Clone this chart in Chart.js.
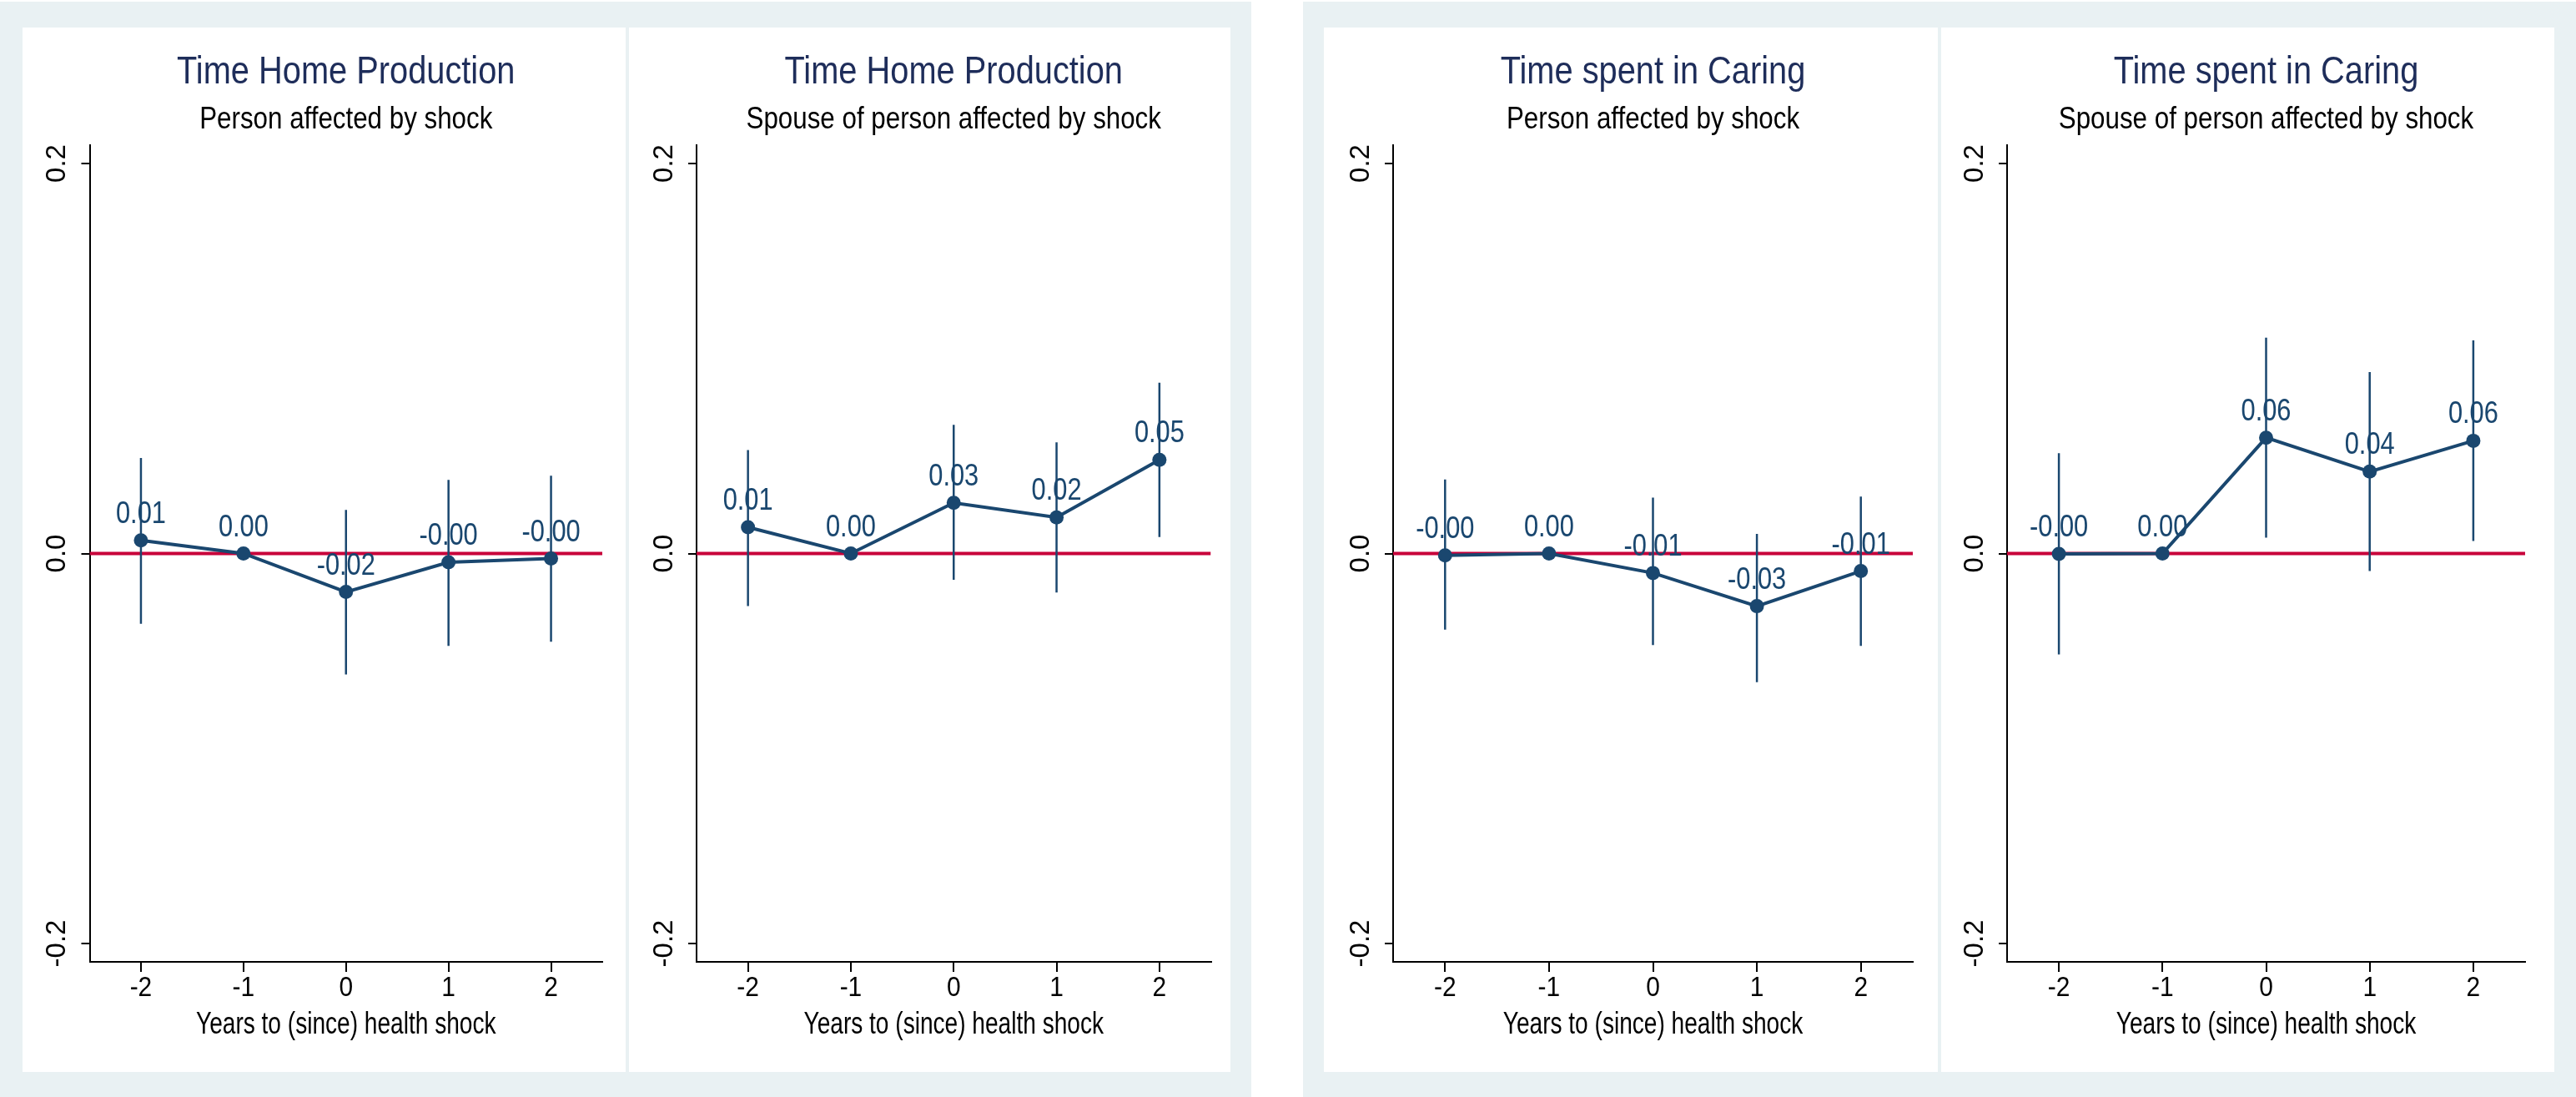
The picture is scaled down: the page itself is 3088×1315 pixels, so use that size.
<!DOCTYPE html>
<html>
<head>
<meta charset="utf-8">
<title>Event study: home production and caring time</title>
<script src="https://cdn.jsdelivr.net/npm/chart.js@4.4.1/dist/chart.umd.min.js"></script>
<style>
  html, body { margin: 0; padding: 0; background: #ffffff; }
  body { width: 3088px; height: 1315px; position: relative; overflow: hidden; }
  .outer { position: absolute; background: #e9f1f3; }
  canvas { position: absolute; background: #ffffff; }
</style>
</head>
<body>
<div class="outer" style="left:0px; top:2px; width:1500px; height:1313px;"></div>
<div class="outer" style="left:1562px; top:2px; width:1526px; height:1313px;"></div>

<script>
// Years relative to the health shock (-1 is the omitted base year)
const years = [-2, -1, 0, 1, 2];
const xTicks = [-2, -1, 0, 1, 2];
const yTicks = [-0.2, 0, 0.2];
const xRange = [-2.5, 2.5];
const yRange = [-0.2094, 0.2094];
const baseline = 0;

const panelTitles = ["Time Home Production", "Time Home Production", "Time spent in Caring", "Time spent in Caring"];
const panelSubtitles = ["Person affected by shock", "Spouse of person affected by shock", "Person affected by shock", "Spouse of person affected by shock"];
const xAxisTitle = "Years to (since) health shock";

// Point estimates and 95% confidence bounds
const homeSelfCoef   = [0.0067, 0, -0.0197, -0.0045, -0.0026];
const homeSelfLo     = [-0.0360, null, -0.0620, -0.0474, -0.0452];
const homeSelfHi     = [0.0490, null, 0.0224, 0.0378, 0.0399];

const homeSpouseCoef = [0.0135, 0, 0.0260, 0.0185, 0.0480];
const homeSpouseLo   = [-0.0270, null, -0.0135, -0.0200, 0.0084];
const homeSpouseHi   = [0.0530, null, 0.0660, 0.0570, 0.0876];

const careSelfCoef   = [-0.0010, 0, -0.0100, -0.0270, -0.0090];
const careSelfLo     = [-0.0390, null, -0.0470, -0.0660, -0.0474];
const careSelfHi     = [0.0380, null, 0.0287, 0.0100, 0.0292];

const careSpouseCoef = [-0.0002, 0, 0.0594, 0.0420, 0.0578];
const careSpouseLo   = [-0.0518, null, 0.0081, -0.0090, 0.0064];
const careSpouseHi   = [0.0514, null, 0.1107, 0.0930, 0.1093];

const series = [
    { coef: homeSelfCoef, lo: homeSelfLo, hi: homeSelfHi },
    { coef: homeSpouseCoef, lo: homeSpouseLo, hi: homeSpouseHi },
    { coef: careSelfCoef, lo: careSelfLo, hi: careSelfHi },
    { coef: careSpouseCoef, lo: careSpouseLo, hi: careSpouseHi }
];

// Placement of the four white plot boxes
const boxes = [
    { left: 27,   width: 723, axis: 80.5, right: 28 },
    { left: 754,  width: 721, axis: 81,   right: 23.5 },
    { left: 1587, width: 736, axis: 83,   right: 30 },
    { left: 2327, width: 735, axis: 79,   right: 35 }
];
const boxTop = 33;
const boxHeight = 1252;

const NAVY = "#1a476f";
const TITLE_NAVY = "#1e2d5a";
const RED = "#c8003a";
const FONT = "'Liberation Sans', Arial, sans-serif";

// the graph font is a narrow sans, so horizontal text gets squeezed
function narrowText(ctx, text, x, y, squeeze) {
    ctx.save();
    ctx.translate(x, y);
    ctx.scale(squeeze, 1);
    ctx.fillText(text, 0, 0);
    ctx.restore();
}

// Title, subtitle, x tick labels and x axis title
const textPlugin = {
    id: "panelText",
    afterDraw(chart, args, opts) {
        const { ctx, chartArea } = chart;
        const xScale = chart.scales.x;
        const cx = (chartArea.left + chartArea.right) / 2;
        ctx.save();
        ctx.textAlign = "center";
        ctx.textBaseline = "alphabetic";

        ctx.fillStyle = TITLE_NAVY;
        ctx.font = "46px " + FONT;
        narrowText(ctx, opts.title, cx, 67, 0.865);

        ctx.fillStyle = "#000000";
        ctx.font = "36px " + FONT;
        narrowText(ctx, opts.subtitle, cx, 121, 0.87);

        ctx.font = "34px " + FONT;
        xScale.ticks.forEach(t => {
            narrowText(ctx, String(t.value), xScale.getPixelForValue(t.value), chartArea.bottom + 41, 0.88);
        });

        ctx.font = "36px " + FONT;
        narrowText(ctx, opts.xTitle, cx, chartArea.bottom + 86, 0.78);
        ctx.restore();
    }
};

// Coefficient labels above each marker
const valueLabelPlugin = {
    id: "valueLabels",
    afterDatasetsDraw(chart) {
        const { ctx } = chart;
        const meta = chart.getDatasetMeta(0);
        const values = chart.data.datasets[0].data;
        ctx.save();
        ctx.textAlign = "center";
        ctx.textBaseline = "alphabetic";
        ctx.fillStyle = NAVY;
        ctx.font = "36px " + FONT;
        meta.data.forEach((pt, i) => {
            narrowText(ctx, values[i].y.toFixed(2), pt.x, pt.y - 21, 0.855);
        });
        ctx.restore();
    }
};

function ciPoints(lo, hi) {
    const pts = [];
    years.forEach((yr, i) => {
        if (lo[i] === null) return;
        pts.push({ x: yr, y: lo[i] }, { x: yr, y: hi[i] }, { x: yr, y: null });
    });
    return pts;
}

function buildChart(idx) {
    const box = boxes[idx];
    const s = series[idx];

    const canvas = document.createElement("canvas");
    canvas.width = box.width;
    canvas.height = boxHeight;
    canvas.style.left = box.left + "px";
    canvas.style.top = boxTop + "px";
    document.body.appendChild(canvas);

    new Chart(canvas.getContext("2d"), {
        type: "line",
        data: {
            datasets: [
                {
                    data: years.map((yr, i) => ({ x: yr, y: s.coef[i] })),
                    borderColor: NAVY,
                    borderWidth: 4,
                    pointRadius: 8.5,
                    pointBackgroundColor: NAVY,
                    pointBorderWidth: 0,
                    tension: 0
                },
                {
                    data: ciPoints(s.lo, s.hi),
                    borderColor: NAVY,
                    borderWidth: 2.5,
                    pointRadius: 0,
                    spanGaps: false
                },
                {
                    data: [{ x: xRange[0], y: baseline }, { x: xRange[1], y: baseline }],
                    borderColor: RED,
                    borderWidth: 4,
                    pointRadius: 0
                }
            ]
        },
        options: {
            responsive: false,
            animation: false,
            events: [],
            layout: { padding: { top: 141, right: box.right, bottom: 0, left: 0 } },
            plugins: {
                legend: { display: false },
                tooltip: { enabled: false },
                panelText: { title: panelTitles[idx], subtitle: panelSubtitles[idx], xTitle: xAxisTitle }
            },
            scales: {
                x: {
                    type: "linear",
                    min: xRange[0],
                    max: xRange[1],
                    afterBuildTicks: sc => { sc.ticks = xTicks.map(v => ({ value: v })); },
                    afterFit: sc => { sc.height = 132; },
                    grid: { drawOnChartArea: false, tickLength: 12, color: "#000000", lineWidth: 2 },
                    border: { color: "#000000", width: 2 },
                    ticks: { display: false }
                },
                y: {
                    min: yRange[0],
                    max: yRange[1],
                    afterBuildTicks: sc => { sc.ticks = yTicks.map(v => ({ value: v })); },
                    afterFit: sc => { sc.width = box.axis; },
                    grid: { drawOnChartArea: false, tickLength: 10, color: "#000000", lineWidth: 2 },
                    border: { color: "#000000", width: 2 },
                    ticks: {
                        color: "#000000",
                        font: { family: FONT, size: 33 },
                        minRotation: 90,
                        maxRotation: 90,
                        crossAlign: "center",
                        padding: 0,
                        callback: v => v.toFixed(1)
                    }
                }
            }
        },
        plugins: [textPlugin, valueLabelPlugin]
    });
}

boxes.forEach((b, i) => buildChart(i));
</script>
</body>
</html>
